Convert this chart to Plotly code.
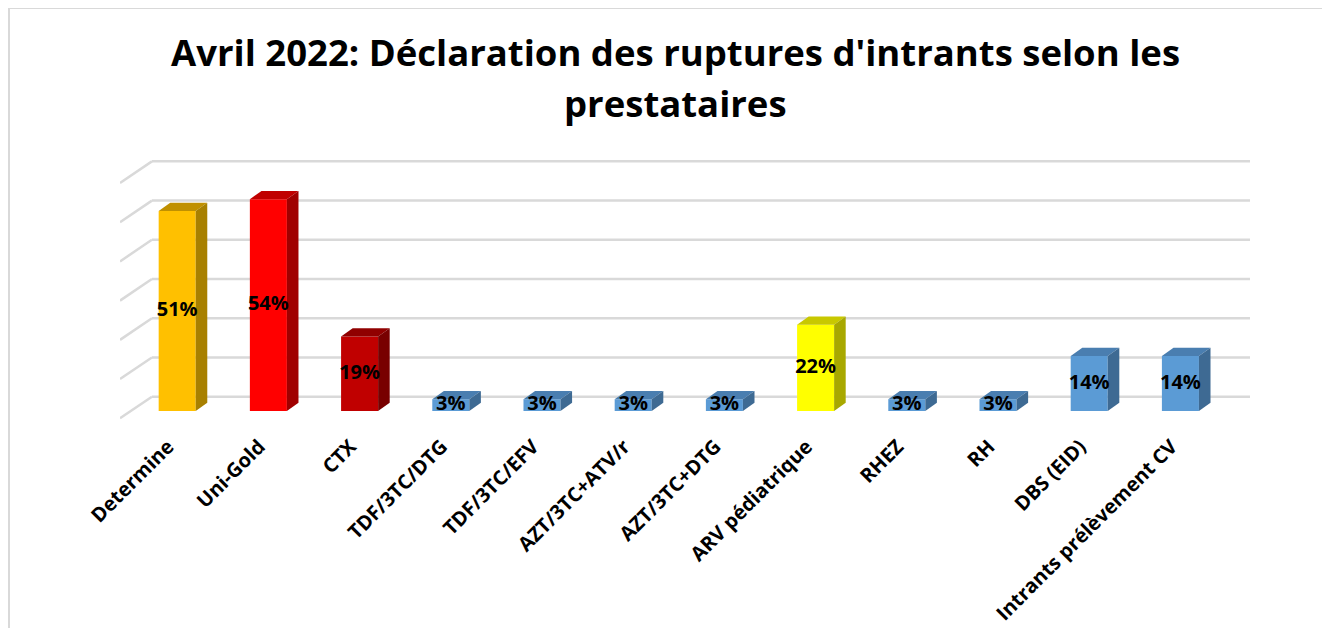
import plotly.graph_objects as go

# data
categories = ["Determine", "Uni-Gold", "CTX", "TDF/3TC/DTG", "TDF/3TC/EFV",
              "AZT/3TC+ATV/r", "AZT/3TC+DTG", "ARV pédiatrique", "RHEZ", "RH",
              "DBS (EID)", "Intrants prélèvement CV"]
values = [51, 54, 19, 3, 3, 3, 3, 22, 3, 3, 14, 14]
grid_ticks = [0, 10, 20, 30, 40, 50, 60]

# colours per bar: front, top, side
front_col = ["#FFC000", "#FF0000", "#C00000", "#5B9BD5", "#5B9BD5", "#5B9BD5",
             "#5B9BD5", "#FFFF00", "#5B9BD5", "#5B9BD5", "#5B9BD5", "#5B9BD5"]
top_col = ["#C09000", "#C00000", "#900000", "#4A7EB0", "#4A7EB0", "#4A7EB0",
           "#4A7EB0", "#C8C800", "#4A7EB0", "#4A7EB0", "#4A7EB0", "#4A7EB0"]
side_col = ["#A88000", "#A00000", "#780000", "#3E6A93", "#3E6A93", "#3E6A93",
            "#3E6A93", "#A8A800", "#3E6A93", "#3E6A93", "#3E6A93", "#3E6A93"]

# page body has an 8px margin, so the figure is drawn 8px smaller
W, H = 1322, 620
ml, mr, mt, mb = 112, 80, 152, 208
xr = [-0.627, 11.763]
yr = [-2.3, 64.0]

bw = 0.406                # bar width (category units)
bdx, bdy = 0.127, 2.12    # bar depth offset
wdx, wy0, wy1 = 0.35, -1.86, 3.65   # side wall: front / back offsets

fig = go.Figure()

# front faces
fig.add_trace(go.Bar(x=list(range(len(values))), y=values, width=bw,
                     marker=dict(color=front_col, line=dict(width=0)),
                     hoverinfo="skip"))

# top and side faces
for i, v in enumerate(values):
    l, r = i - bw / 2, i + bw / 2
    fig.add_trace(go.Scatter(
        x=[l, r, r + bdx, l + bdx, l], y=[v, v, v + bdy, v + bdy, v],
        fill="toself", fillcolor=top_col[i], mode="none", hoverinfo="skip"))
    fig.add_trace(go.Scatter(
        x=[r, r + bdx, r + bdx, r, r], y=[0, bdy, v + bdy, v, 0],
        fill="toself", fillcolor=side_col[i], mode="none", hoverinfo="skip"))

# value labels in the middle of each bar
fig.add_trace(go.Scatter(
    x=list(range(len(values))), y=[v / 2 for v in values],
    text=[f"{v}%" for v in values], mode="text",
    textfont=dict(family="Open Sans", size=20, color="black", weight="bold"),
    hoverinfo="skip"))

# back wall gridlines and side wall stubs
shapes = []
for t in grid_ticks:
    shapes.append(dict(type="line", layer="below", x0=xr[0], y0=t + wy0,
                       x1=xr[0] + wdx, y1=t + wy1,
                       line=dict(color="#D9D9D9", width=2.5)))
    shapes.append(dict(type="line", layer="below", x0=xr[0] + wdx, y0=t + wy1,
                       x1=xr[1], y1=t + wy1,
                       line=dict(color="#D9D9D9", width=2.5)))

# chart border (top and left edges visible)
pw, ph = W - ml - mr, H - mt - mb
bx = (1 - ml) / pw
by = (H - mb) / ph
shapes.append(dict(type="line", xref="paper", yref="paper", x0=bx, y0=by,
                   x1=(W - ml) / pw + 0.01, y1=by,
                   line=dict(color="#D9D9D9", width=2)))
shapes.append(dict(type="line", xref="paper", yref="paper", x0=bx, y0=by,
                   x1=bx, y1=-mb / ph - 0.01,
                   line=dict(color="#D9D9D9", width=2)))

# title as two lines centred at page y = 52 and 103
title_lines = ["Avril 2022: Déclaration des ruptures d'intrants selon les", "prestataires"]
annotations = []
for txt, py in zip(title_lines, [52, 103]):
    annotations.append(dict(
        text=txt, xref="paper", yref="paper", showarrow=False,
        x=(667 - ml) / pw, y=(H - mb - (py - 8)) / ph,
        xanchor="center", yanchor="middle",
        font=dict(family="Open Sans", size=36.5, color="black", weight="bold")))

fig.update_layout(
    width=W, height=H,
    margin=dict(l=ml, r=mr, t=mt, b=mb, autoexpand=False),
    paper_bgcolor="white", plot_bgcolor="white",
    showlegend=False,
    shapes=shapes,
    annotations=annotations,
    xaxis=dict(range=xr, tickmode="array",
               tickvals=[i - 0.1 for i in range(len(categories))],
               ticktext=categories, tickangle=-45, showgrid=False, zeroline=False,
               showline=False, ticks="", ticklabelstandoff=10, automargin=False,
               tickfont=dict(family="Open Sans", size=20, color="black", weight="bold")),
    yaxis=dict(range=yr, showgrid=False, zeroline=False, showline=False,
               showticklabels=False, ticks="", automargin=False),
)

fig.write_html("out.html")
